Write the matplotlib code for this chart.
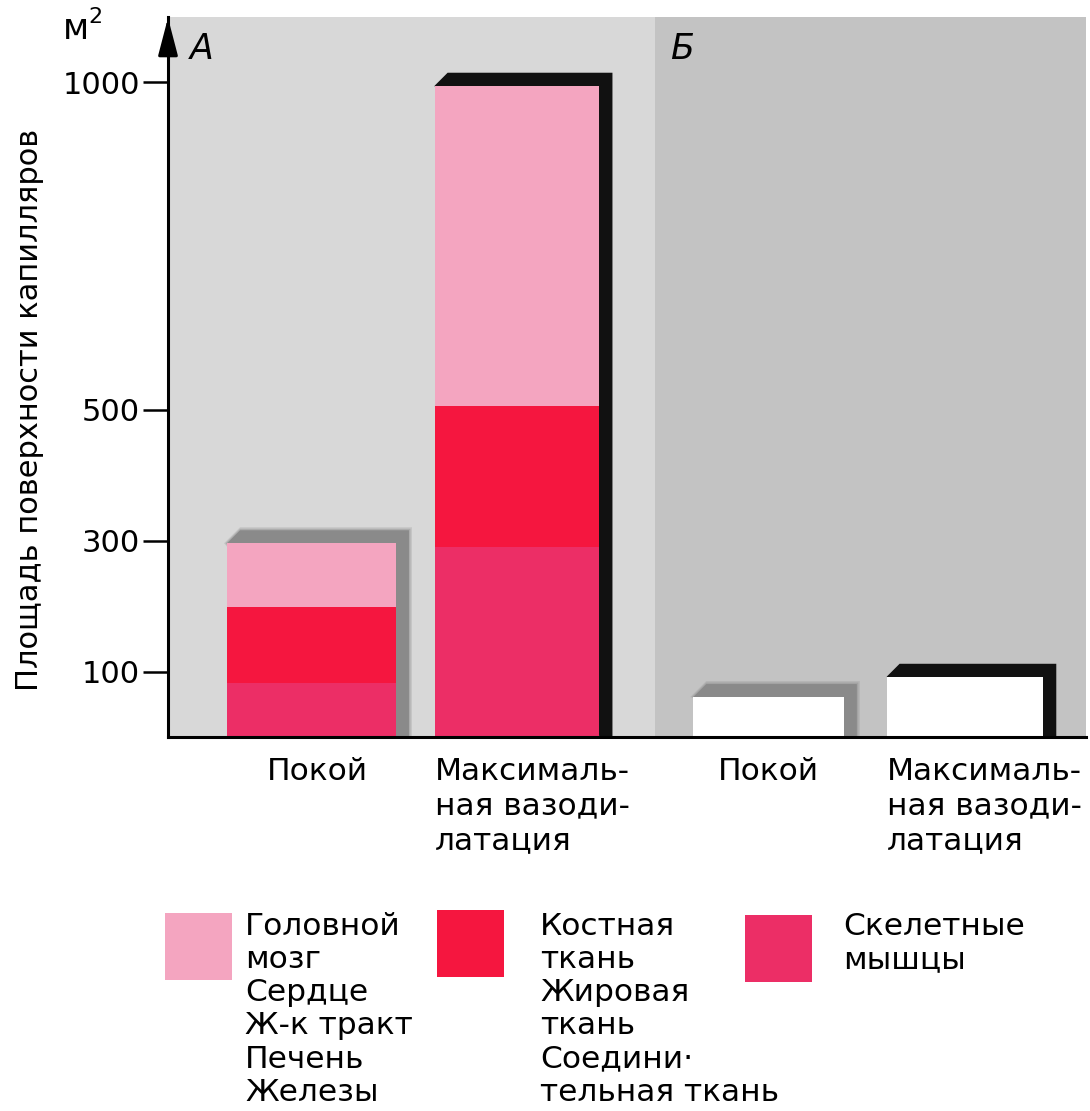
import matplotlib
matplotlib.use("Agg")
import matplotlib.pyplot as plt
from matplotlib.patches import Rectangle, Polygon
import matplotlib.transforms as mtransforms

plt.rcParams['font.family'] = ['DejaVu Sans']

# ---- data ----
categories_A = ["Покой", "Максималь-\nная вазоди-\nлатация"]
categories_B = ["Покой", "Максималь-\nная вазоди-\nлатация"]
skeletal_A = [82, 290]          # Скелетные мышцы
bone_fat_A = [116, 215]         # Костная, жировая, соединительная ткань
brain_etc_A = [98, 490]         # Головной мозг, сердце, ж-к тракт, печень, железы
totals_B = [61, 92]
yticks = [100, 300, 500, 1000]
legend_labels = ["Головной\nмозг\nСердце\nЖ-к тракт\nПечень\nЖелезы",
                 "Костная\nткань\nЖировая\nткань\nСоедини·\nтельная ткань",
                 "Скелетные\nмышцы"]
ylabel = "Площадь поверхности капилляров"

# ---- style ----
c_brain = "#f4a5c0"
c_bone = "#f5163f"
c_skel = "#ec2e66"
bg_A = "#d8d8d8"
bg_B = "#c3c3c3"
FS = 22.5
W, H = 1090, 1111
fig = plt.figure(figsize=(W / 100, H / 100), dpi=100)
fig.patch.set_facecolor("white")

ax_l, ax_r, ax_b, ax_t = 168, 1086, 737, 17
ax = fig.add_axes([ax_l / W, 1 - ax_b / H, (ax_r - ax_l) / W, (ax_b - ax_t) / H])
px_per_x = 203.5
x_left = -(311.5 - ax_l) / px_per_x
x_right = x_left + (ax_r - ax_l) / px_per_x
ylim_top = 1100
ax.set_xlim(x_left, x_right)
ax.set_ylim(0, ylim_top)
px_per_y = (ax_b - ax_t) / ylim_top

pos_A = [0.0, 1.01]
pos_B = [2.246, 3.211]
width_A = [0.83, 0.81]
width_B = [0.74, 0.77]
divider = 1.69

ax.axvspan(x_left, divider, color=bg_A, zorder=0, lw=0)
ax.axvspan(divider, x_right, color=bg_B, zorder=0, lw=0)

dx = 13 / px_per_x
dy = 13 / px_per_y

def shadow(x, w, top, color, soft=False):
    L, R = x - w / 2, x + w / 2
    if soft:
        for k, a in ((3, 0.25), (1.5, 0.4)):
            ex, ey = k / px_per_x, k / px_per_y
            poly = Polygon([(L - ex, top), (L + dx, top + dy + ey), (R + dx + ex, top + dy + ey),
                            (R + dx + ex, 0), (R, 0)],
                           closed=True, facecolor=color, edgecolor='none', alpha=a, zorder=1)
            ax.add_patch(poly)
    poly = Polygon([(L, top), (L + dx, top + dy), (R + dx, top + dy), (R + dx, 0), (R, 0)],
                   closed=True, facecolor=color, edgecolor='none', zorder=1)
    ax.add_patch(poly)

shadow_colors = ["#8a8a8a", "#111111"]
for i in range(2):
    tot = skeletal_A[i] + bone_fat_A[i] + brain_etc_A[i]
    shadow(pos_A[i], width_A[i], tot, shadow_colors[i], soft=(i == 0))
    ax.bar(pos_A[i], skeletal_A[i], width=width_A[i], color=c_skel, zorder=2, lw=0)
    ax.bar(pos_A[i], bone_fat_A[i], bottom=skeletal_A[i], width=width_A[i], color=c_bone, zorder=2, lw=0)
    ax.bar(pos_A[i], brain_etc_A[i], bottom=skeletal_A[i] + bone_fat_A[i], width=width_A[i],
           color=c_brain, zorder=2, lw=0)
for i in range(2):
    shadow(pos_B[i], width_B[i], totals_B[i], shadow_colors[i], soft=(i == 0))
    ax.bar(pos_B[i], totals_B[i], width=width_B[i], color="white", zorder=2, lw=0)

# axes styling
for s in ["top", "right"]:
    ax.spines[s].set_visible(False)
ax.spines["left"].set_linewidth(2.2)
ax.spines["bottom"].set_linewidth(2.2)
ax.spines["left"].set_zorder(5)
ax.spines["bottom"].set_zorder(5)
ax.set_yticks(yticks)
ax.set_yticklabels([str(t) for t in yticks], fontsize=22)
ax.tick_params(axis='y', length=18, width=1.8, pad=2)
ax.set_xticks([])
# arrow on y axis
ax.annotate("", xy=(x_left, ylim_top + 2 / px_per_y), xytext=(x_left, ylim_top - 40 / px_per_y),
            arrowprops=dict(arrowstyle="-|>,head_length=2.3,head_width=0.6", color="black", lw=2.2),
            annotation_clip=False, zorder=6)

# x labels
trans = mtransforms.blended_transform_factory(ax.transData, fig.transFigure)
ylab = 1 - 757 / H
LS_X = 1.245
for i, lab in enumerate(categories_A):
    if i == 0:
        ax.text(pos_A[i] + 0.03, ylab, lab, transform=trans, ha='center', va='top', fontsize=FS, linespacing=LS_X)
    else:
        ax.text(pos_A[i] - width_A[i] / 2, ylab, lab, transform=trans, ha='left', va='top', fontsize=FS, linespacing=LS_X)
for i, lab in enumerate(categories_B):
    if i == 0:
        ax.text(pos_B[i], ylab, lab, transform=trans, ha='center', va='top', fontsize=FS, linespacing=LS_X)
    else:
        ax.text(pos_B[i] - width_B[i] / 2, ylab, lab, transform=trans, ha='left', va='top', fontsize=FS, linespacing=LS_X)

# panel letters, units, ylabel
fig.text(190 / W, 1 - 49 / H, "А", fontsize=25, style='italic', va='center', ha='left')
fig.text(670 / W, 1 - 49 / H, "Б", fontsize=25, style='italic', va='center', ha='left')
fig.text(63 / W, 1 - 29 / H, "м", fontsize=25, va='center', ha='left')
fig.text(88 / W, 1 - 17 / H, "2", fontsize=16, va='center', ha='left')
fig.text(30 / W, 1 - 410 / H, ylabel, fontsize=22, rotation=90, va='center', ha='center')

# legend
leg_colors = [c_brain, c_bone, c_skel]
sq_x = [165, 437, 745]
txt_x = [245, 540, 843]
sq_top = [913, 910, 915]
for c, sx, tx, st, lab in zip(leg_colors, sq_x, txt_x, sq_top, legend_labels):
    fig.patches.append(Rectangle((sx / W, 1 - (st + 67) / H), 67 / W, 67 / H,
                                 transform=fig.transFigure, facecolor=c, edgecolor='none'))
    fig.text(tx / W, 1 - 912 / H, lab, fontsize=FS, va='top', ha='left', linespacing=1.18)

fig.savefig("out.png", dpi=100)
